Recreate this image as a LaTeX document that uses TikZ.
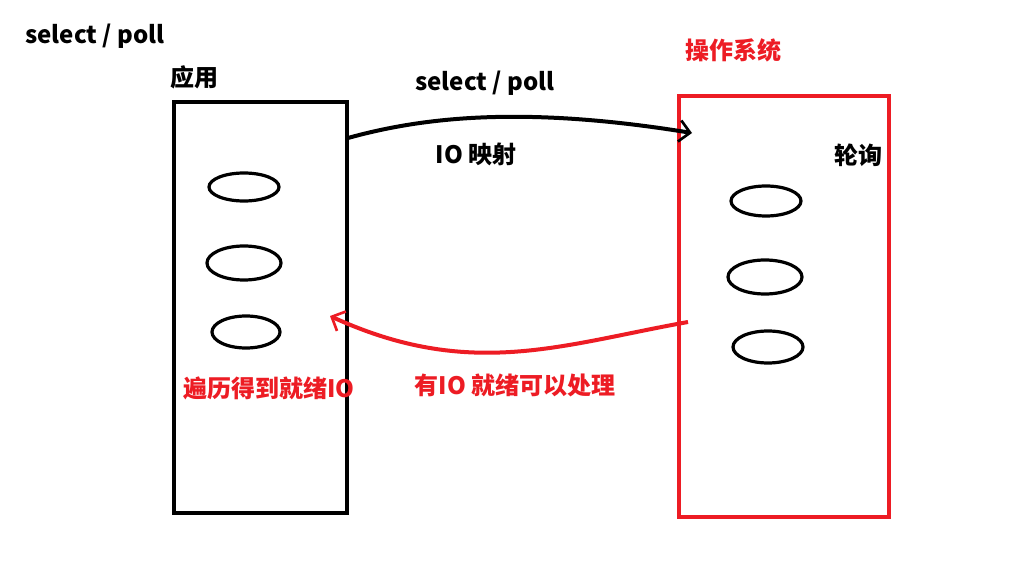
\documentclass[tikz,border=0pt]{standalone}
\usepackage{fontspec}
\setmainfont{Noto Sans CJK SC}
\usetikzlibrary{arrows.meta,shapes.geometric}
\definecolor{paintred}{RGB}{237, 28, 36}
\tikzset{
  lbl/.style={font=\fontsize{18}{20}\selectfont\bfseries, inner sep=0pt},
  iobox/.style={draw, line width=3pt, anchor=north west, inner sep=0pt},
  fd/.style={draw, ellipse, line width=2.4pt, inner sep=0pt},
  barb/.style={line width=3pt, -{Straight Barb[length=8pt,width=16pt,line width=2pt]}}
}
\begin{document}
\begin{tikzpicture}[x=0.75pt,y=-0.75pt]
            \useasboundingbox[fill=white] (0,0) rectangle (1018,577);
            % title
            \node[lbl] (title) at (95,36) {select / poll};
            % application side
            \node[lbl] (applbl) at (194,77) {应用};
            \node[iobox, minimum width=129.75pt, minimum height=308.25pt] (app) at (172,100) {};
            \node[fd, minimum width=52.5pt, minimum height=21pt] (a1) at (244,187) {};
            \node[fd, minimum width=55.5pt, minimum height=25.5pt] (a2) at (244,263) {};
            \node[fd, minimum width=51pt, minimum height=24pt] (a3) at (246,332) {};
            \node[lbl, text=paintred] (scan) at (269,388) {遍历得到就绪IO};
            % operating system side
            \node[lbl, text=paintred] (oslbl) at (733,50) {操作系统};
            \node[iobox, color=paintred, minimum width=157.5pt, minimum height=315.75pt] (os) at (677,94) {};
            \node[lbl] (poll) at (858,155) {轮询};
            \node[fd, minimum width=52.5pt, minimum height=22.5pt] (o1) at (766,201) {};
            \node[fd, minimum width=55.5pt, minimum height=25.5pt] (o2) at (765,277) {};
            \node[fd, minimum width=52.5pt, minimum height=24pt] (o3) at (768,347) {};
            % connectors
            \coordinate (selfrom) at (348,138);
            \coordinate (selto) at (692,133);
            \coordinate (rdyfrom) at (688,322);
            \coordinate (rdyto) at (330,316);
            \draw[barb] (selfrom) .. controls (420,118) and (520,105) .. (selto);
            \draw[barb, paintred] (rdyfrom) .. controls (560,345) and (470,380) .. (rdyto);
            \node[lbl] (sellbl) at (485,83) {select / poll};
            \node[lbl] (maplbl) at (476,154) {IO 映射};
            \node[lbl, text=paintred] (rdylbl) at (515,385) {有IO 就绪可以处理};
            \end{tikzpicture}
\end{document}
